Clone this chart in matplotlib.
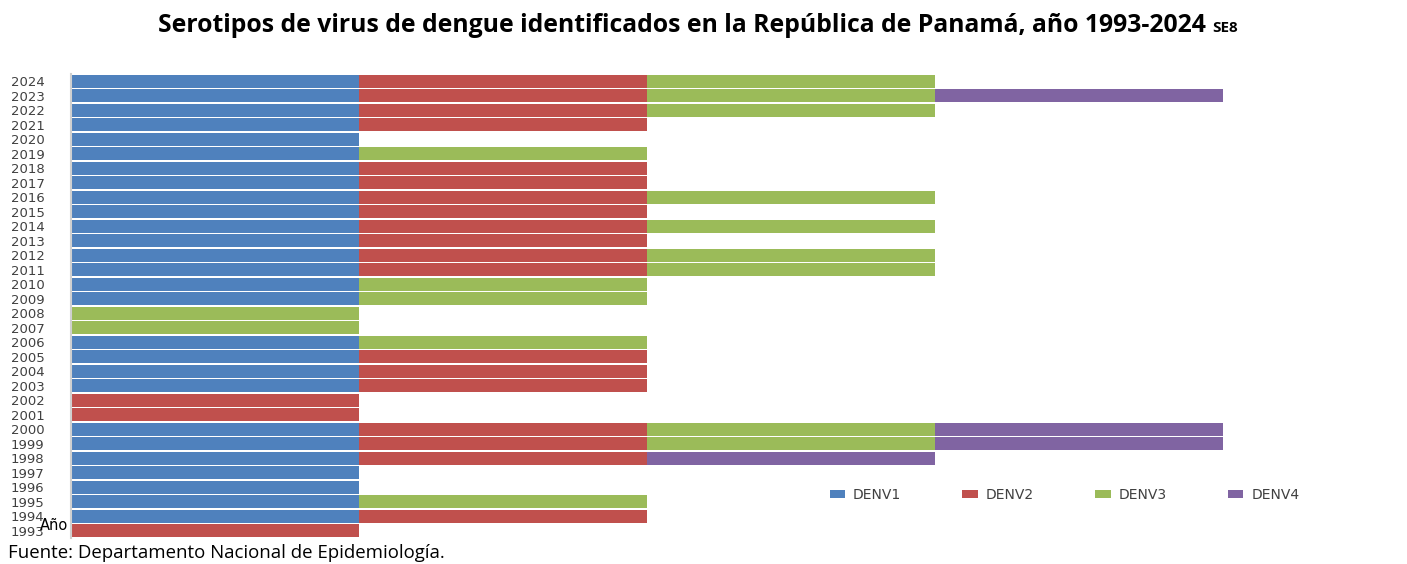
import numpy as np
import matplotlib
matplotlib.use('Agg')
import matplotlib.pyplot as plt
from matplotlib.patches import Patch

# years from bottom to top
years = list(range(1993, 2025))

# 1 = serotype identified that year
denv1 = [0, 1, 1, 1, 1, 1, 1, 1, 0, 0, 1, 1, 1, 1, 0, 0,
         1, 1, 1, 1, 1, 1, 1, 1, 1, 1, 1, 1, 1, 1, 1, 1]
denv2 = [1, 1, 0, 0, 0, 1, 1, 1, 1, 1, 1, 1, 1, 0, 0, 0,
         0, 0, 1, 1, 1, 1, 1, 1, 1, 1, 0, 0, 1, 1, 1, 1]
denv3 = [0, 0, 1, 0, 0, 0, 1, 1, 0, 0, 0, 0, 0, 1, 1, 1,
         1, 1, 1, 1, 0, 1, 0, 1, 0, 0, 1, 0, 0, 1, 1, 1]
denv4 = [0, 0, 0, 0, 0, 1, 1, 1, 0, 0, 0, 0, 0, 0, 0, 0,
         0, 0, 0, 0, 0, 0, 0, 0, 0, 0, 0, 0, 0, 0, 1, 0]

series = ['DENV1', 'DENV2', 'DENV3', 'DENV4']
colors = ['#4F81BD', '#C0504D', '#9BBB59', '#8064A2']

fig = plt.figure(figsize=(14.07, 5.64), dpi=100)
ax = fig.add_axes([71/1407, 1 - 538/564, (1223-71)/1407, (538-74)/564])

y = np.arange(len(years))
left = np.zeros(len(years))
for vals, c in zip([denv1, denv2, denv3, denv4], colors):
    vals = np.array(vals, dtype=float)
    mask = vals > 0
    ax.barh(y[mask], vals[mask], left=left[mask], height=0.92, color=c,
            edgecolor='none')
    left += vals

ax.set_xlim(0, 4)
ax.set_ylim(-0.5, len(years) - 0.5)
ax.set_yticks(y)
ax.set_yticklabels([str(v) for v in years], fontsize=9.5, color='#404040')
ax.tick_params(axis='y', length=0, pad=19)
ax.set_xticks([])
for s in ['top', 'right', 'bottom']:
    ax.spines[s].set_visible(False)
ax.spines['left'].set_color('#D0D0D0')
ax.spines['left'].set_linewidth(1.5)

handles = [Patch(facecolor=c, edgecolor='none') for c in colors]
fig.legend(handles, series, loc='center left', bbox_to_anchor=(817/1407, 1 - 495/564),
           ncol=4, frameon=False, fontsize=10, handlelength=1.1, handleheight=0.55,
           handletextpad=0.6, columnspacing=4.4, labelcolor='#404040')

fig.text(40/1407, 1 - 526/564, 'Año', fontsize=10.5, color='black', va='center')

fig.text(1206/1407, 1 - 25/564,
         'Serotipos de virus de dengue identificados en la República de Panamá, año 1993-2024',
         fontsize=17.8, fontweight='bold', family='Open Sans', ha='right', va='center')
fig.text(1212/1407, 1 - 28/564, 'SE8', fontsize=11, fontweight='bold', family='Open Sans',
         ha='left', va='center')

fig.text(8/1407, 1 - 553/564, 'Fuente: Departamento Nacional de Epidemiología.',
         fontsize=13.4, family='Open Sans', ha='left', va='center')

fig.savefig('out.png', dpi=100)
